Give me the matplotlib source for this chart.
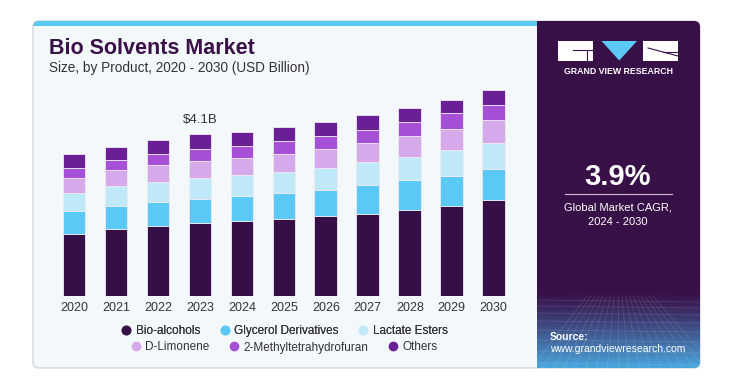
import numpy as np
import matplotlib
matplotlib.use("Agg")
import matplotlib.pyplot as plt
from matplotlib.patches import FancyBboxPatch, Rectangle, Polygon
from matplotlib.lines import Line2D

plt.rcParams['font.family'] = ['Liberation Sans', 'DejaVu Sans']

# Daten (USD Billion)
jahre = ["2020", "2021", "2022", "2023", "2024", "2025", "2026", "2027", "2028", "2029", "2030"]
produkte = ["Bio-alcohols", "Glycerol Derivatives", "Lactate Esters",
            "D-Limonene", "2-Methyltetrahydrofuran", "Others"]
bio_alcohols = [1.57, 1.71, 1.78, 1.84, 1.90, 1.95, 2.02, 2.08, 2.17, 2.29, 2.43]
glycerol = [0.59, 0.57, 0.60, 0.62, 0.64, 0.66, 0.66, 0.73, 0.76, 0.76, 0.79]
lactate = [0.44, 0.50, 0.52, 0.54, 0.53, 0.53, 0.57, 0.58, 0.59, 0.64, 0.66]
d_limonene = [0.38, 0.41, 0.41, 0.43, 0.44, 0.47, 0.48, 0.50, 0.53, 0.55, 0.58]
methf = [0.27, 0.27, 0.29, 0.30, 0.30, 0.33, 0.33, 0.33, 0.36, 0.40, 0.39]
others = [0.34, 0.33, 0.35, 0.37, 0.36, 0.34, 0.36, 0.37, 0.36, 0.33, 0.37]
farben = ["#370f47", "#5bc9f5", "#bfe9f9", "#d6a9ea", "#a64fd7", "#6b1f97"]

W, H = 747, 376
fig = plt.figure(figsize=(W / 100, H / 100), dpi=100)
fig.patch.set_facecolor("white")

# Hintergrund in Pixelkoordinaten
bg = fig.add_axes([0, 0, 1, 1])
bg.set_xlim(0, W)
bg.set_ylim(H, 0)
bg.axis("off")

karte = FancyBboxPatch((33, 21), 667, 347, boxstyle="round,pad=0,rounding_size=6",
                       facecolor="#f3f8fb", edgecolor="#d3d6da", linewidth=1)
bg.add_patch(karte)

# blauer Streifen oben
streifen = Rectangle((33, 21), 504, 4.5, facecolor="#5bc8f0", edgecolor="none")
bg.add_patch(streifen)
streifen.set_clip_path(karte)

# dunkles Panel mit Verlauf unten
lila = np.array([0x38, 0x10, 0x48]) / 255
blau = np.array([0x4a, 0xa6, 0xdf]) / 255
ys = np.linspace(21, 368, 400)
t = np.clip((ys - 292) / (368 - 292), 0, 1) ** 1.2
verlauf = (lila[None, :] * (1 - t[:, None]) + blau[None, :] * t[:, None])[:, None, :]
bild = bg.imshow(verlauf, extent=(537, 700.5, 368, 21), aspect="auto", zorder=2)
bild.set_clip_path(karte)

# feines Gitter im Verlauf
for y0 in [300, 306, 313, 321, 330, 340, 351, 363]:
    l, = bg.plot([537, 700], [y0, y0 + 2], color="white", alpha=0.12, lw=0.6, zorder=3)
for x0 in np.arange(530, 720, 11):
    l, = bg.plot([618 + (x0 - 618) * 0.35, x0], [296, 370], color="white", alpha=0.12, lw=0.6, zorder=3)

# Logo
bg.add_patch(Rectangle((558, 41), 35, 20, facecolor="white", edgecolor="none", zorder=4))
bg.add_patch(Rectangle((643, 41), 35, 20, facecolor="white", edgecolor="none", zorder=4))
bg.add_patch(Polygon([(601.5, 41), (637, 41), (619.2, 60.5)], closed=True,
                     facecolor="#5bc8f5", edgecolor="none", zorder=4))
bg.plot([573, 593], [49.5, 49.5], color="#381048", lw=0.8, zorder=5)
bg.plot([587, 587], [49.5, 61], color="#381048", lw=0.8, zorder=5)
bg.plot([648, 678], [48, 56], color="#381048", lw=0.8, zorder=5)
bg.plot([663, 678], [52, 52], color="#381048", lw=0.8, zorder=5)
bg.text(618.5, 71.5, "GRAND VIEW RESEARCH", color="white", fontsize=6.3, fontweight="bold",
        ha="center", va="center", zorder=5)

# CAGR
bg.text(618, 177, "3.9%", color="white", fontsize=21, fontweight="bold", ha="center", va="center", zorder=5)
bg.plot([565, 672], [194, 194], color="#c9bcd3", lw=0.8, zorder=5)
bg.text(618, 207.5, "Global Market CAGR,", color="white", fontsize=8, ha="center", va="center", zorder=5)
bg.text(618, 222, "2024 - 2030", color="white", fontsize=8, ha="center", va="center", zorder=5)

# Quelle
bg.text(550, 337, "Source:", color="white", fontsize=7.5, fontweight="bold", ha="left", va="center", zorder=5)
bg.text(550, 349, "www.grandviewresearch.com", color="white", fontsize=7.5, ha="left", va="center", zorder=5)

# Titel
bg.text(49, 49, "Bio Solvents Market", color="#3a1048", fontsize=15.5, fontweight="bold",
        ha="left", va="center")
bg.text(49, 68, "Size, by Product, 2020 - 2030 (USD Billion)", color="#333333", fontsize=9.8,
        ha="left", va="center")

# Diagramm
schritt = 41.97
links = 74 - 0.5 * schritt
ymax = 5.5
hoehe = ymax / 0.02536
ax = fig.add_axes([links / W, (H - 296) / H, 11 * schritt / W, hoehe / H])
ax.set_facecolor("none")
ax.set_xlim(-0.5, 10.5)
ax.set_ylim(0, ymax)

x = np.arange(len(jahre))
serien = [bio_alcohols, glycerol, lactate, d_limonene, methf, others]
unten = np.zeros(len(jahre))
for werte, farbe, name in zip(serien, farben, produkte):
    ax.bar(x, werte, bottom=unten, width=0.54, color=farbe, edgecolor="#efe9f4",
           linewidth=0.6, label=name)
    unten += np.array(werte)

ax.text(3, unten[3] + 0.2, "$4.1B", ha="center", va="bottom", fontsize=9.5, color="#333333")

for s in ax.spines.values():
    s.set_visible(False)
ax.set_yticks([])
ax.set_xticks(x)
ax.set_xticklabels(jahre, fontsize=9, color="#333333")
ax.tick_params(axis="x", length=0, pad=4)

# Legende in zwei Zeilen
griffe = [Line2D([], [], marker="o", linestyle="none", markersize=6, color=f) for f in farben]
leg1 = fig.legend(griffe[:3], produkte[:3], loc="center", bbox_to_anchor=(284 / W, 1 - 331 / H),
                  ncol=3, frameon=False, fontsize=8.5, handletextpad=0.3, columnspacing=1.6,
                  handlelength=1, labelcolor="#333333")
fig.add_artist(leg1)
leg2 = fig.legend(griffe[3:], produkte[3:], loc="center", bbox_to_anchor=(284 / W, 1 - 347.5 / H),
                  ncol=3, frameon=False, fontsize=8.5, handletextpad=0.3, columnspacing=1.6,
                  handlelength=1, labelcolor="#333333")

fig.savefig("out.png", dpi=100)
